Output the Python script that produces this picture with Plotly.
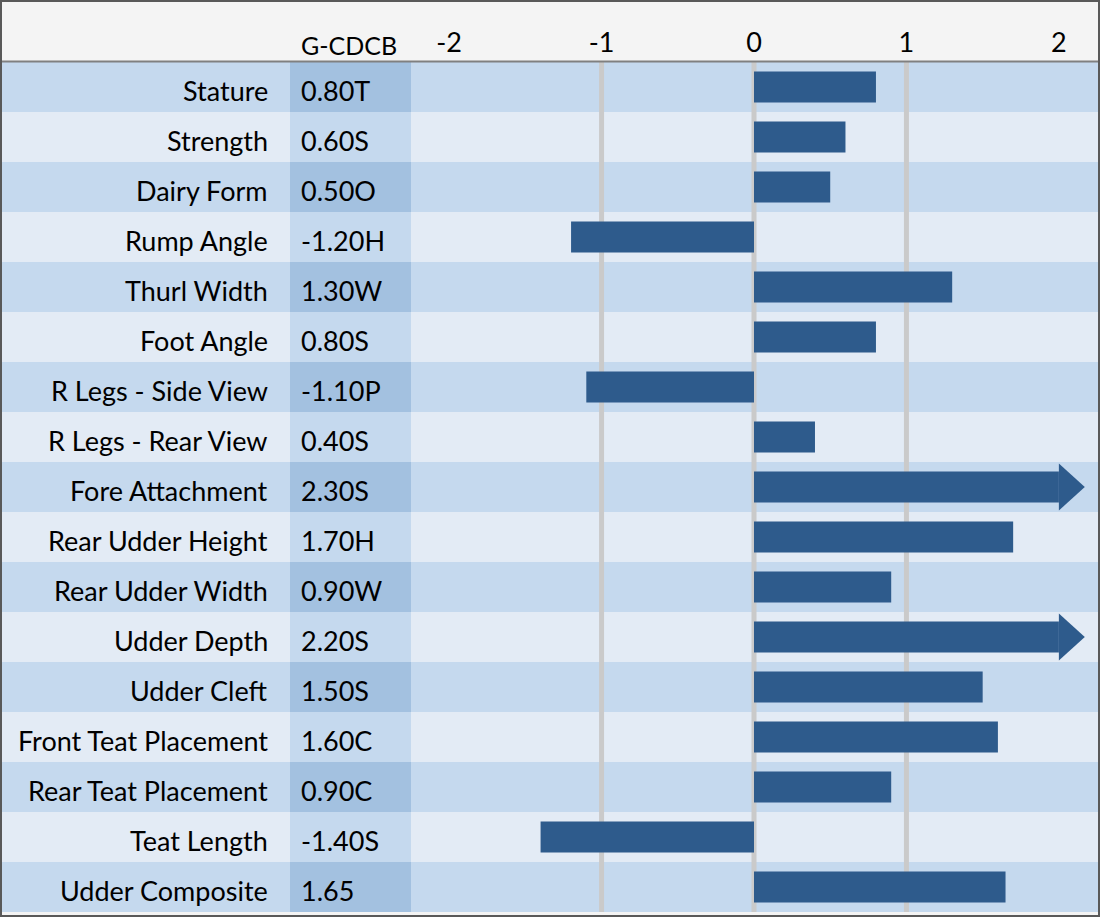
import plotly.graph_objects as go

traits = ["Stature", "Strength", "Dairy Form", "Rump Angle", "Thurl Width", "Foot Angle",
          "R Legs - Side View", "R Legs - Rear View", "Fore Attachment", "Rear Udder Height",
          "Rear Udder Width", "Udder Depth", "Udder Cleft", "Front Teat Placement",
          "Rear Teat Placement", "Teat Length", "Udder Composite"]
values = [0.80, 0.60, 0.50, -1.20, 1.30, 0.80, -1.10, 0.40, 2.30, 1.70, 0.90, 2.20,
          1.50, 1.60, 0.90, -1.40, 1.65]
suffixes = ["T", "S", "O", "H", "W", "S", "P", "S", "S", "H", "W", "S", "S", "C", "C", "S", ""]
value_labels = ["%.2f%s" % (v, s) for v, s in zip(values, suffixes)]
tick_vals = [-2, -1, 0, 1, 2]
grid_vals = [-1, 0, 1]
column_title = "G-CDCB"

W, H = 1100, 917
CLIP = 2.0
ARROW_TIP = 2.17
BAR_W = 0.62
HEAD_HALF = 0.47

FONT = "Lato"
FS = 27
DARK_ROW = "#c5d9ee"
LIGHT_ROW = "#e3ebf5"
DARK_CELL = "#a3c1e0"
LIGHT_CELL = "#c5d9ee"
BAR_COLOR = "#2e5b8c"

n = len(traits)
ypos = list(range(n))
shown = [min(v, CLIP) for v in values]

def px(x):
    return x / W

def py(y):
    return 1 - y / H

shapes = []
annotations = []
for i in ypos:
    dark = (i % 2 == 0)
    shapes.append(dict(type="rect", xref="paper", yref="y", x0=0, x1=1, y0=i - 0.5, y1=i + 0.5,
                       fillcolor=DARK_ROW if dark else LIGHT_ROW, line=dict(width=0), layer="below"))
    shapes.append(dict(type="rect", xref="paper", yref="y", x0=px(290), x1=px(411), y0=i - 0.5, y1=i + 0.5,
                       fillcolor=DARK_CELL if dark else LIGHT_CELL, line=dict(width=0), layer="below"))
    annotations.append(dict(xref="paper", yref="y", x=px(270), y=i, text=traits[i], showarrow=False,
                            xanchor="right", yanchor="middle", yshift=-3,
                            font=dict(family=FONT, size=FS, color="black")))
    annotations.append(dict(xref="paper", yref="y", x=px(299), y=i, text=value_labels[i], showarrow=False,
                            xanchor="left", yanchor="middle", yshift=-3,
                            font=dict(family=FONT, size=FS, color="black")))

for g in grid_vals:
    shapes.append(dict(type="line", xref="x", yref="y", x0=g, x1=g, y0=-0.5, y1=n - 0.5,
                       line=dict(color="#cacaca", width=5), layer="below"))

for i, v in enumerate(values):
    if v > CLIP:
        path = "M %f,%f L %f,%f L %f,%f Z" % (CLIP, i - HEAD_HALF, ARROW_TIP, i, CLIP, i + HEAD_HALF)
        shapes.append(dict(type="path", xref="x", yref="y", path=path,
                           fillcolor=BAR_COLOR, line=dict(width=0), layer="above"))

# header separator and outer border
shapes.append(dict(type="line", xref="paper", yref="paper", x0=0, x1=1, y0=py(61.5), y1=py(61.5),
                   line=dict(color="#808080", width=2)))
shapes.append(dict(type="rect", xref="paper", yref="paper", x0=px(1), x1=px(1099), y0=py(916), y1=py(1),
                   line=dict(color="#595959", width=2), fillcolor="rgba(0,0,0,0)"))

annotations.append(dict(xref="paper", yref="paper", x=px(299), y=py(43), text=column_title, showarrow=False,
                        xanchor="left", yanchor="middle", yshift=-2,
                        font=dict(family=FONT, size=25, color="black")))

fig = go.Figure(go.Bar(x=shown, y=ypos, orientation="h", width=BAR_W, base=0,
                       marker=dict(color=BAR_COLOR, line=dict(width=0)), hoverinfo="skip"))

fig.update_layout(
    width=W, height=H,
    margin=dict(l=0, r=0, t=0, b=0),
    paper_bgcolor="#f4f4f4",
    plot_bgcolor="rgba(0,0,0,0)",
    showlegend=False,
    shapes=shapes,
    annotations=annotations,
    xaxis=dict(domain=[px(411), px(1097)], range=[-2.25, 2.25], side="top",
               tickvals=tick_vals, ticktext=[str(t) for t in tick_vals],
               showgrid=False, zeroline=False, ticks="", showline=False,
               ticklabelstandoff=4,
               tickfont=dict(family=FONT, size=FS, color="black"), fixedrange=True),
    yaxis=dict(domain=[py(912), py(62)], range=[n - 0.5, -0.5], showticklabels=False,
               showgrid=False, zeroline=False, ticks="", fixedrange=True),
)

fig.write_html("out.html", config={"displayModeBar": False},
               post_script="document.body.style.margin='0';document.body.style.padding='0';document.body.style.overflow='hidden';")
